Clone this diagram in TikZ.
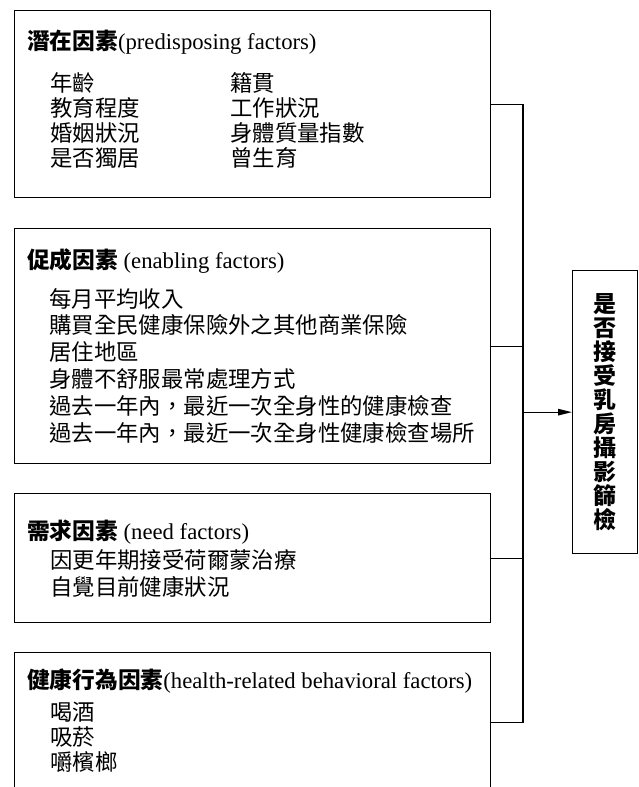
\documentclass[tikz,border=0pt]{standalone}
\usepackage{fontspec}
\setmainfont{Liberation Serif}
\newfontfamily\cjk{Noto Sans CJK TC}
\usetikzlibrary{arrows.meta}
\begin{document}
\begin{tikzpicture}[x=1pt,y=-1pt,
  box/.style={draw,line width=1.3pt,rectangle,inner sep=0pt,anchor=north west},
  conn/.style={line width=1.3pt},
  arr/.style={line width=1.3pt,-{Triangle[length=14pt,width=6.5pt]}},
  ttl/.style={anchor=west,inner sep=0pt,font=\fontsize{22.7}{26}\selectfont},
  itm/.style={anchor=west,inner sep=0pt,font=\fontsize{22.4}{26}\selectfont\cjk}]
\useasboundingbox (0,0) rectangle (638,787);
\clip (0,0) rectangle (638,787);
% boxes
\node[box,minimum width=476pt,minimum height=187pt] (b1) at (14,10) {};
\node[box,minimum width=476pt,minimum height=235pt] (b2) at (14,228) {};
\node[box,minimum width=476pt,minimum height=129pt] (b3) at (14,493) {};
\node[box,minimum width=476pt,minimum height=140pt] (b4) at (14,652) {};
\node[draw,line width=1.3pt,rectangle,inner sep=0pt,minimum width=64.5pt,minimum height=283pt,anchor=north west] (tgt) at (572,270) {};
\node[align=center,inner sep=0pt,font=\fontsize{23}{24}\selectfont\cjk\bfseries] (tgttext) at (tgt.center) {是\\否\\接\\受\\乳\\房\\攝\\影\\篩\\檢};
% box 1
\node[ttl] (t1) at (27,42) {{\cjk\bfseries 潛在因素}(predisposing factors)};
\node[itm] (i11) at (50,83) {年齡};
\node[itm] (i12) at (50,108) {教育程度};
\node[itm] (i13) at (50,133) {婚姻狀況};
\node[itm] (i14) at (50,158) {是否獨居};
\node[itm] (i15) at (230,83) {籍貫};
\node[itm] (i16) at (230,108) {工作狀況};
\node[itm] (i17) at (230,133) {身體質量指數};
\node[itm] (i18) at (230,158) {曾生育};
% box 2
\node[ttl] (t2) at (27,261) {{\cjk\bfseries 促成因素} (enabling factors)};
\node[itm] (i21) at (49,299) {每月平均收入};
\node[itm] (i22) at (49,325) {購買全民健康保險外之其他商業保險};
\node[itm] (i23) at (49,352) {居住地區};
\node[itm] (i24) at (49,379) {身體不舒服最常處理方式};
\node[itm] (i25) at (49,406) {過去一年內，最近一次全身性的健康檢查};
\node[itm] (i26) at (49,433) {過去一年內，最近一次全身性健康檢查場所};
% box 3
\node[ttl] (t3) at (27,532) {{\cjk\bfseries 需求因素} (need factors)};
\node[itm] (i31) at (50,560) {因更年期接受荷爾蒙治療};
\node[itm] (i32) at (50,587) {自覺目前健康狀況};
% box 4
\node[ttl] (t4) at (27,681) {{\cjk\bfseries 健康行為因素}(health-related behavioral factors)};
\node[itm] (i41) at (50,712) {喝酒};
\node[itm] (i42) at (50,737) {吸菸};
\node[itm] (i43) at (50,762) {嚼檳榔};
% connectors
\coordinate (bus) at (523,0);
\draw[conn] (b1.east) -| (bus |- b4.east) -- (b4.east);
\draw[conn] (b2.east) -- (bus |- b2.east);
\draw[conn] (b3.east) -- (bus |- b3.east);
\draw[arr] (bus |- tgt.west) -- (tgt.west);
\end{tikzpicture}
\end{document}
